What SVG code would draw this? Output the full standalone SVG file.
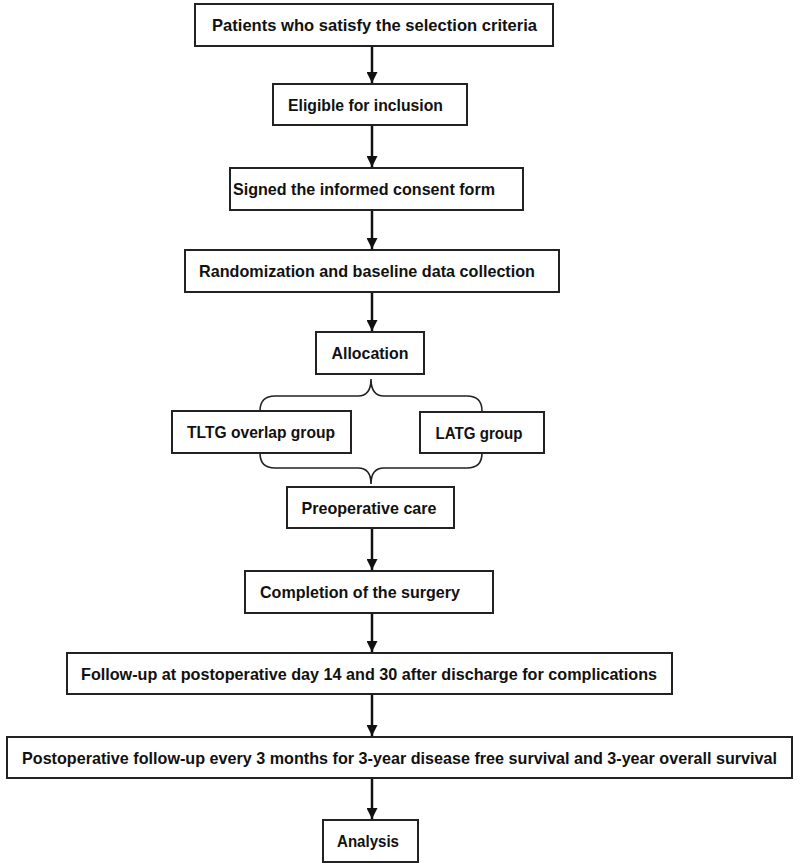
<svg xmlns="http://www.w3.org/2000/svg" width="800" height="864" viewBox="0 0 800 864">
<style>
.box{fill:#fff;stroke:#222;stroke-width:2}
.t{font-family:"Liberation Sans","DejaVu Sans",sans-serif;font-weight:bold;font-size:16.5px;fill:#111;text-anchor:middle}
.arr{stroke:#111;stroke-width:2.5;fill:none;marker-end:url(#ah)}
.brace{stroke:#222;stroke-width:1.6;fill:none}
</style>
<defs>
<marker id="ah" viewBox="0 0 10 10" refX="10" refY="5" markerUnits="userSpaceOnUse" markerWidth="11" markerHeight="11" orient="auto">
<path d="M0,0 L10,5 L0,10 Z" fill="#111"/>
</marker>
</defs>
<rect width="800" height="864" fill="#fff"/>
<g id="connectors">
<line class="arr" x1="372" y1="46" x2="372" y2="83"/>
<line class="arr" x1="372" y1="125" x2="372" y2="167"/>
<line class="arr" x1="372" y1="210" x2="372" y2="249"/>
<line class="arr" x1="372" y1="292" x2="372" y2="331"/>
<path class="brace" d="M260,411 Q260,396 275,396 L358,396 Q371,396 371,379 Q371,396 384,396 L467,396 Q482,396 482,411"/>
<path class="brace" d="M260,453 Q260,468 275,468 L358,468 Q371,468 371,484 Q371,468 384,468 L467,468 Q482,468 482,453"/>
<line class="arr" x1="372" y1="528" x2="372" y2="570"/>
<line class="arr" x1="372" y1="613" x2="372" y2="652"/>
<line class="arr" x1="372" y1="694" x2="372" y2="736"/>
<line class="arr" x1="372" y1="778" x2="372" y2="819"/>
</g>
<g id="n1"><rect class="box" x="195" y="4" width="358" height="42"/><text class="t" x="374.5" y="31" textLength="325" lengthAdjust="spacingAndGlyphs">Patients who satisfy the selection criteria</text></g>
<g id="n2"><rect class="box" x="273" y="84" width="194" height="41"/><text class="t" x="365.5" y="110.5" textLength="155" lengthAdjust="spacingAndGlyphs">Eligible for inclusion</text></g>
<g id="n3"><rect class="box" x="230" y="168" width="293" height="42"/><text class="t" x="364" y="195" textLength="262" lengthAdjust="spacingAndGlyphs">Signed the informed consent form</text></g>
<g id="n4"><rect class="box" x="185" y="250" width="374" height="42"/><text class="t" x="367" y="277" textLength="336" lengthAdjust="spacingAndGlyphs">Randomization and baseline data collection</text></g>
<g id="n5"><rect class="box" x="316" y="332" width="108" height="42"/><text class="t" x="370" y="359" textLength="77" lengthAdjust="spacingAndGlyphs">Allocation</text></g>
<g id="n6"><rect class="box" x="172" y="411" width="179" height="42"/><text class="t" x="261" y="438" textLength="148" lengthAdjust="spacingAndGlyphs">TLTG overlap group</text></g>
<g id="n7"><rect class="box" x="420" y="412" width="124" height="41"/><text class="t" x="479" y="438.5" textLength="87" lengthAdjust="spacingAndGlyphs">LATG group</text></g>
<g id="n8"><rect class="box" x="287" y="487" width="167" height="41"/><text class="t" x="369" y="513.5" textLength="135" lengthAdjust="spacingAndGlyphs">Preoperative care</text></g>
<g id="n9"><rect class="box" x="245" y="571" width="248" height="42"/><text class="t" x="360" y="598" textLength="200" lengthAdjust="spacingAndGlyphs">Completion of the surgery</text></g>
<g id="n10"><rect class="box" x="67" y="653" width="605" height="41"/><text class="t" x="369" y="679.5" textLength="576" lengthAdjust="spacingAndGlyphs">Follow-up at postoperative day 14 and 30 after discharge for complications</text></g>
<g id="n11"><rect class="box" x="7" y="737" width="785" height="41"/><text class="t" x="399.5" y="763.5" textLength="755" lengthAdjust="spacingAndGlyphs">Postoperative follow-up every 3 months for 3-year disease free survival and 3-year overall survival</text></g>
<g id="n12"><rect class="box" x="323" y="820" width="95" height="42"/><text class="t" x="368" y="847" textLength="62" lengthAdjust="spacingAndGlyphs">Analysis</text></g>
</svg>
